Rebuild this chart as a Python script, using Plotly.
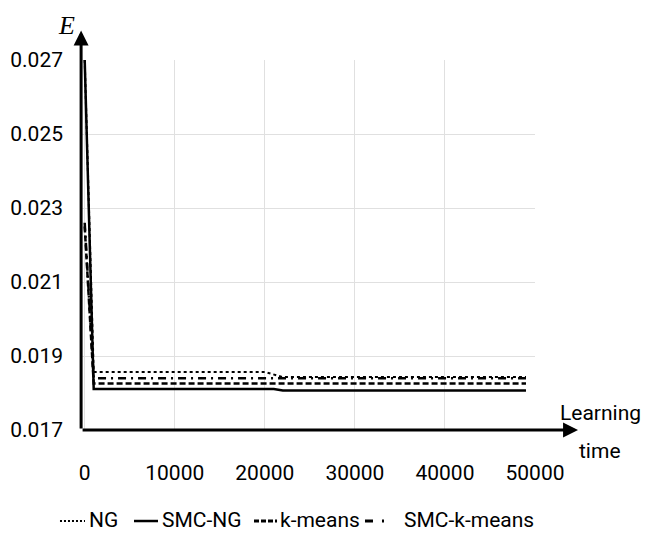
import plotly.graph_objects as go

# Learning time (x) breakpoints and error E values
ng_x = [0, 1000, 20000, 21000, 22000, 49000]
ng_y = [0.0270, 0.01857, 0.01857, 0.01850, 0.01843, 0.01843]

smcng_x = [0, 1000, 21000, 22000, 49000]
smcng_y = [0.0270, 0.01811, 0.01811, 0.01807, 0.01807]

km_x = [0, 1000, 49000]
km_y = [0.0225, 0.01826, 0.01826]

smckm_x = [0, 1000, 49000]
smckm_y = [0.0226, 0.01840, 0.01840]

series_names = ["NG", "SMC-NG", "k-means", "SMC-k-means"]
y_ticks = [0.017, 0.019, 0.021, 0.023, 0.025, 0.027]
x_ticks = [0, 10000, 20000, 30000, 40000, 50000]

FONT = "Roboto, Lato, sans-serif"
styles = [dict(width=2, dash="dot"),
          dict(width=2.5, dash="solid"),
          dict(width=2.5, dash="6px,3px"),
          dict(width=2.5, dash="8px,5px,2px,5px")]
legend_styles = [dict(width=2, dash="2px,2px"),
                 dict(width=2.5, dash="solid"),
                 dict(width=3, dash="5px,2px"),
                 dict(width=3, dash="8px,9px,2px,30px")]

fig = go.Figure()
for xs, ys, name, st in zip([ng_x, smcng_x, km_x, smckm_x],
                            [ng_y, smcng_y, km_y, smckm_y], series_names, styles):
    fig.add_trace(go.Scatter(x=xs, y=ys, mode="lines", name=name,
                             line=dict(color="black", **st)))

# page body has an 8px margin, so the figure is sized to fit inside 652x543
fig.update_layout(
    width=636, height=527,
    margin=dict(l=74, r=109, t=52, b=105),
    paper_bgcolor="white", plot_bgcolor="white",
    font=dict(family=FONT, size=21, color="black"),
    showlegend=False,
    xaxis=dict(range=[-300, 50000], tickvals=x_ticks, ticktext=[str(v) for v in x_ticks],
               showgrid=True, gridcolor="#e0e0e0", gridwidth=1, zeroline=False,
               showline=False, ticks="", ticklabelstandoff=28, automargin=False),
    yaxis=dict(range=[0.017, 0.027], tickvals=y_ticks, ticktext=[f"{v:.3f}" for v in y_ticks],
               showgrid=True, gridcolor="#e0e0e0", gridwidth=1, zeroline=False,
               showline=False, ticks="", ticklabelstandoff=18, automargin=False),
)

# axis arrows
fig.add_annotation(xref="x domain", yref="y domain", x=-0.002, y=1.08,
                   axref="x domain", ayref="y domain", ax=-0.002, ay=0,
                   showarrow=True, arrowhead=2, arrowsize=1, arrowwidth=3,
                   arrowcolor="black", text="")
fig.add_annotation(xref="x domain", yref="y domain", x=1.095, y=0,
                   axref="x domain", ayref="y domain", ax=-0.002, ay=0,
                   showarrow=True, arrowhead=2, arrowsize=1, arrowwidth=3,
                   arrowcolor="black", text="")

fig.add_annotation(xref="paper", yref="paper", x=-0.012, y=1.138, showarrow=False,
                   xanchor="right", yanchor="top",
                   text="<i>E</i>", font=dict(family="Liberation Serif, serif", size=26))
fig.add_annotation(xref="paper", yref="paper", x=1.1435, y=0.046, showarrow=False,
                   text="Learning", font=dict(size=21), xanchor="center", yanchor="middle")
fig.add_annotation(xref="paper", yref="paper", x=1.1435, y=-0.057, showarrow=False,
                   text="time", font=dict(size=21), xanchor="center", yanchor="middle")

# legend row below the chart (swatch start, swatch end, label start in paper x)
leg_pos = [(-0.0486, 0.0066, 0.011), (0.1148, 0.1678, 0.172),
           (0.3797, 0.4305, 0.4327), (0.6247, 0.680, 0.7064)]
for name, st, (x0, x1, xt) in zip(series_names, legend_styles, leg_pos):
    fig.add_shape(type="line", xref="paper", yref="paper", x0=x0, x1=x1,
                  y0=-0.246, y1=-0.246, line=dict(color="black", **st))
    fig.add_annotation(xref="paper", yref="paper", x=xt, y=-0.243, showarrow=False,
                       text=name, xanchor="left", yanchor="middle", font=dict(size=21))

fig.write_html("out.html")
